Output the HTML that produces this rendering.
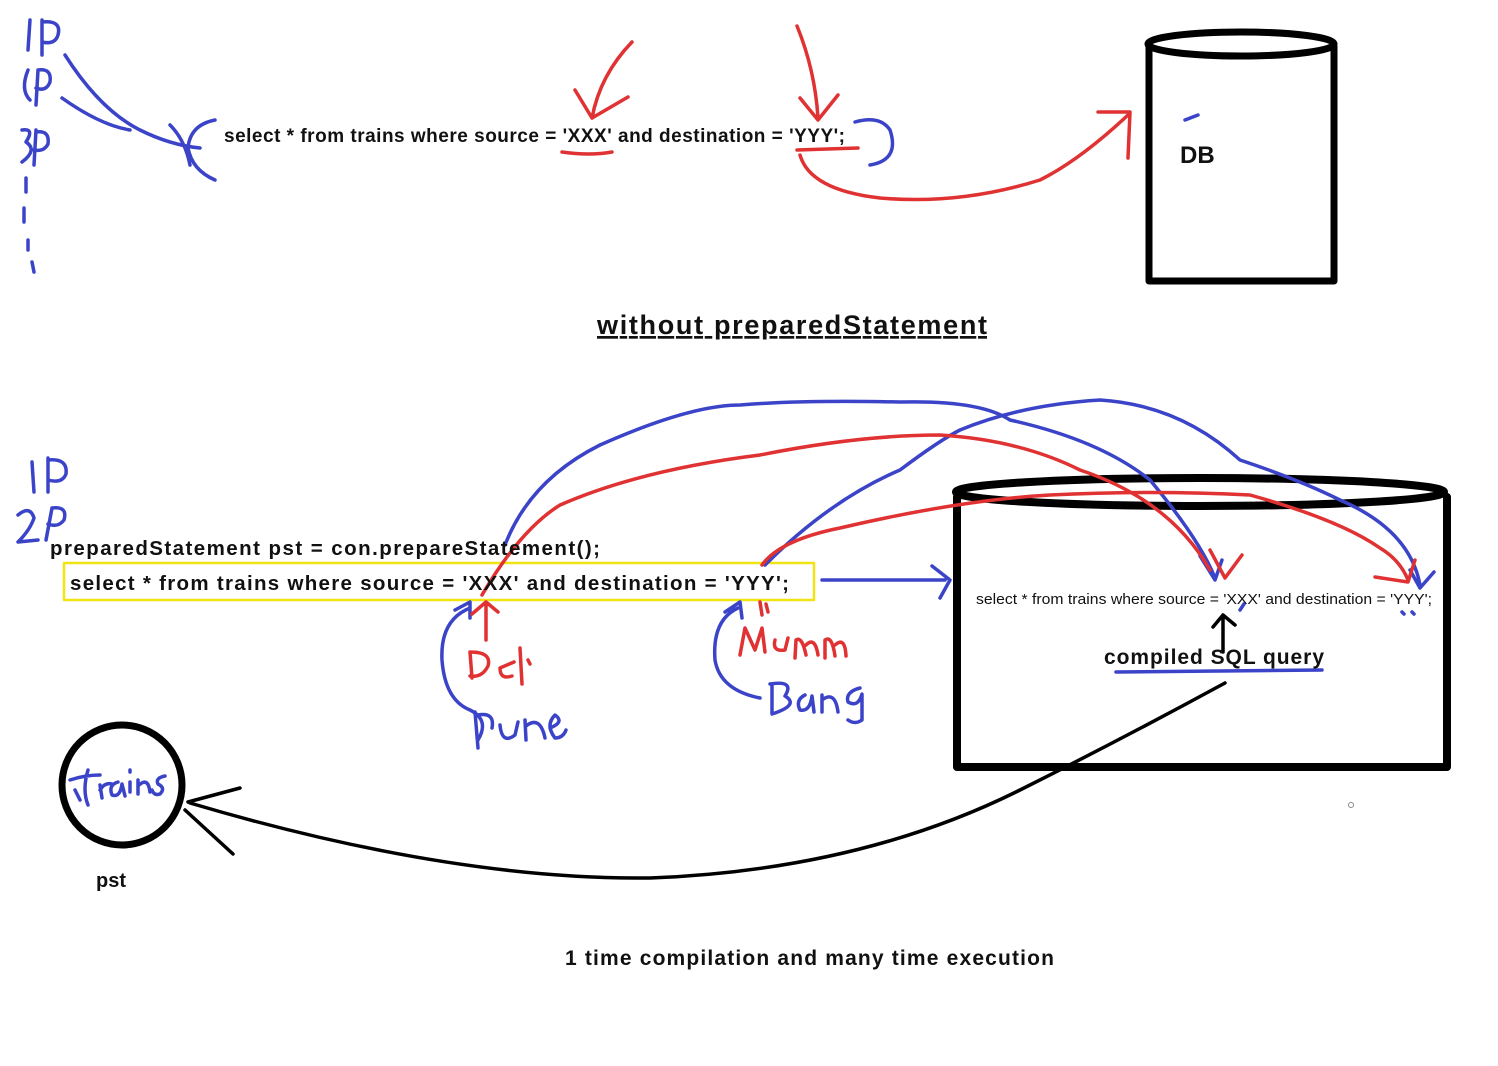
<!DOCTYPE html>
<html><head><meta charset="utf-8"><style>
html,body{margin:0;padding:0;background:#fff;}
svg{display:block;}
text{font-family:"Liberation Sans",sans-serif;font-weight:bold;fill:#111;}
</style></head><body>
<svg width="1498" height="1066" viewBox="0 0 1498 1066" xmlns="http://www.w3.org/2000/svg">
<g fill="none" stroke-linecap="round" stroke-linejoin="round">
<g stroke="#3b44c8" stroke-width="3.5">
<path d="M30 20 L28 50 M42 20 L42 55 M42 22 Q62 20 58 35 Q55 45 42 42"/>
<path d="M28 70 Q20 90 30 100 M38 70 L36 105 M38 70 Q52 68 50 82 Q46 92 36 88"/>
<path d="M22 130 Q35 128 26 142 Q38 150 22 162 M36 130 L34 165 M36 132 Q50 130 48 144 Q44 152 34 150"/>
<path d="M26 178 L26 192 M24 208 L24 222 M28 240 L28 250 M32 262 L34 272"/>
<path d="M65 55 Q100 110 140 130 Q170 145 200 148"/>
<path d="M62 98 Q100 125 130 130"/>
<path d="M170 125 Q185 140 190 165 M215 120 Q190 125 188 148 Q192 170 215 180"/>
<path d="M855 122 Q880 115 890 130 Q900 160 870 165"/>
<path d="M1185 120 L1198 115"/>
</g>
<g stroke="#e03232" stroke-width="3.5">
<path d="M632 42 Q600 75 592 118 M575 90 L592 118 L628 97"/>
<path d="M562 152 Q590 156 612 152"/>
<path d="M797 26 Q815 70 818 118 M800 98 L818 120 L838 95"/>
<path d="M797 150 L858 148"/>
<path d="M800 155 Q810 190 880 198 Q960 205 1040 180 Q1080 160 1128 115 M1098 112 L1130 112 L1128 158"/>
</g>
<g stroke="#000" stroke-width="7">
<path d="M1149 46 L1149 281 L1334 281 L1334 46"/>
<ellipse cx="1241" cy="44" rx="93" ry="12"/>
</g>
<g stroke="#000" stroke-width="8">
<path d="M957 497 L957 767 L1447 767 L1447 497"/>
<ellipse cx="1200" cy="492" rx="244" ry="14"/>
</g>
<rect x="64" y="563" width="750" height="37" stroke="#f2e313" stroke-width="2.5"/>
<circle cx="122" cy="785" r="60" stroke="#000" stroke-width="7"/>
<g stroke="#000" stroke-width="3.5">
<path d="M1225 683 Q1120 740 1020 790 Q860 870 650 878 Q450 880 190 803"/>
<path d="M188 802 L240 788 M185 810 L233 854"/>
<path d="M1223 652 L1223 615 M1213 627 L1223 615 L1235 625"/>
</g>
<g stroke="#3b44c8" stroke-width="3.5">
<path d="M32 462 L34 492 M48 458 L48 492 M48 460 Q68 458 66 474 Q62 484 48 480"/>
<path d="M18 515 Q30 505 34 518 Q30 530 18 542 L38 540 M52 508 L46 540 M52 508 Q68 506 64 520 Q58 528 48 524"/>
<path d="M822 580 L945 580 M932 566 L950 580 L940 598"/>
<path d="M505 545 Q530 480 600 445 Q690 405 740 405 Q800 400 900 402 Q980 400 1010 420 Q1100 440 1150 480 Q1200 540 1215 578 M1200 556 L1215 580 L1222 560"/>
<path d="M765 565 Q830 500 900 470 Q940 440 960 430 Q1020 405 1100 400 Q1180 405 1240 460 Q1300 480 1340 500 Q1410 530 1420 585 M1410 570 L1420 588 L1434 572"/>
<path d="M470 608 Q440 620 442 660 Q445 700 470 710 Q490 720 478 740 M455 610 L470 602 L470 618"/>
<path d="M475 712 L478 748 M478 715 Q495 712 492 728 M500 725 Q502 745 515 735 L518 722 M525 720 L526 740 M526 726 Q540 715 545 738 M550 728 Q565 722 555 715 Q545 725 555 738 Q563 738 566 730"/>
<path d="M738 608 Q712 620 715 660 Q720 690 760 698 M725 612 L740 602 L742 618"/>
<path d="M770 684 Q795 680 785 696 Q800 705 772 714 L772 684 M805 695 Q795 700 800 710 Q810 712 812 696 L814 712 M822 695 L822 712 M822 700 Q835 690 838 712 M860 688 Q845 692 848 702 Q858 708 862 694 L862 720 Q855 725 848 720"/>
<path d="M1116 672 L1322 670"/>
<path d="M1402 612 L1404 614 M1412 612 L1414 614 M1240 610 L1244 604"/>
<path d="M75 790 L80 800 M70 780 Q85 775 100 775 M88 770 Q82 790 88 805 M100 785 L102 798 M100 790 Q105 782 112 784 M118 782 Q108 785 112 795 Q120 798 122 784 L125 796 M130 782 L130 792 M130 770 L130 772 M138 780 L138 794 M138 786 Q148 776 150 792 M165 776 Q155 778 158 784 Q166 788 160 794 Q154 796 152 790"/>
</g>
<g stroke="#e03232" stroke-width="3.5">
<path d="M482 595 Q520 530 560 505 Q640 470 760 455 Q860 435 940 435 Q1020 440 1080 470 Q1170 500 1210 570 M1210 550 L1225 578 L1242 555"/>
<path d="M762 565 Q780 540 840 528 Q960 500 1050 495 Q1150 490 1250 495 Q1340 520 1380 548 Q1400 560 1408 580 M1375 577 L1408 582 L1415 560"/>
<path d="M486 640 L486 604 M472 614 L486 602 L498 612"/>
<path d="M760 602 L762 615 M766 604 L768 612"/>
<path d="M470 652 L472 678 M470 652 Q492 652 488 666 Q482 678 470 676 M500 668 Q500 680 512 676 M500 668 L514 662 M520 648 L522 684 M528 660 L530 664"/>
<path d="M740 655 L745 628 L755 650 L762 628 L765 652 M775 640 Q772 652 785 650 L788 638 M795 658 L796 640 Q802 636 806 655 M806 645 Q815 636 818 655 M825 658 L825 640 Q832 635 835 656 M835 645 Q845 636 846 656"/>
</g>
</g>
<text x="224" y="142" font-size="19" textLength="621" lengthAdjust="spacing">select * from trains where source = 'XXX' and destination = 'YYY';</text>
<text x="1180" y="163" font-size="24">DB</text>
<text x="597" y="334" font-size="27" text-decoration="underline" textLength="390" lengthAdjust="spacing">without preparedStatement</text>
<text x="50" y="555" font-size="20.5" textLength="550" lengthAdjust="spacing">preparedStatement pst = con.prepareStatement();</text>
<text x="70" y="590" font-size="20.5" textLength="719" lengthAdjust="spacing">select * from trains where source = 'XXX' and destination = 'YYY';</text>
<text x="976" y="604" font-size="15" textLength="456" lengthAdjust="spacingAndGlyphs" style="font-weight:normal">select * from trains where source = 'XXX' and destination = 'YYY';</text>
<text x="1104" y="664" font-size="21" textLength="220" lengthAdjust="spacing">compiled SQL query</text>
<text x="96" y="887" font-size="20">pst</text>
<text x="565" y="965" font-size="21" textLength="489" lengthAdjust="spacing">1 time compilation and many time execution</text>
<circle cx="1351" cy="805" r="2.5" fill="none" stroke="#888" stroke-width="1"/>
</svg>
</body></html>
